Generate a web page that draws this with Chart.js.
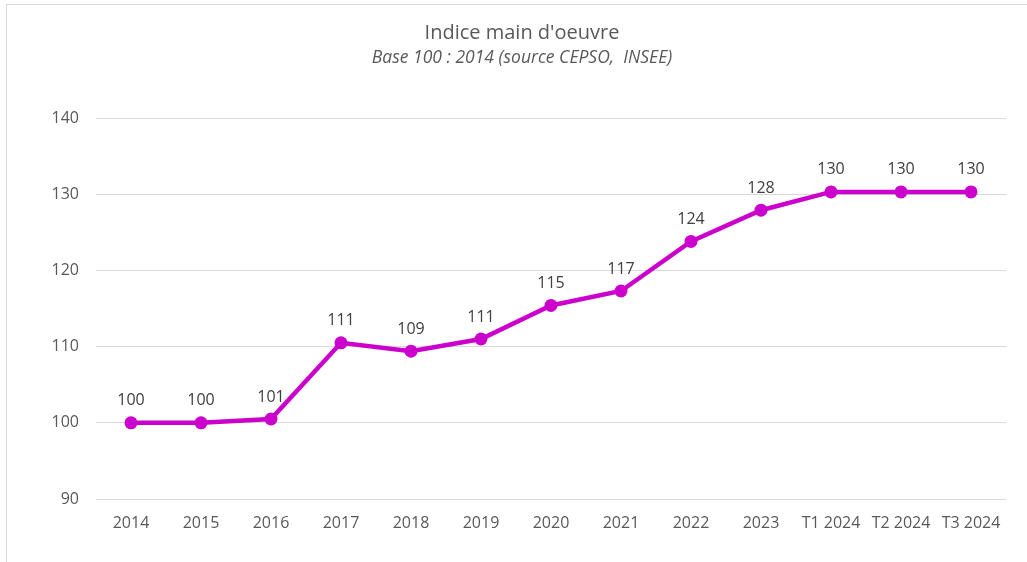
<!DOCTYPE html>
<html>
<head>
<meta charset="utf-8">
<script src="https://cdn.jsdelivr.net/npm/chart.js@4.4.1/dist/chart.umd.min.js"></script>
<style>
html,body{margin:0;padding:0;background:#fff;overflow:hidden;}
#wrap{position:relative;width:1027px;height:562px;}
#frame{position:absolute;left:6px;top:4px;width:1200px;height:700px;border:1px solid #d9d9d9;box-sizing:border-box;}
canvas{position:absolute;left:0;top:0;}
</style>
</head>
<body>
<div id="wrap">
<div id="frame"></div>
<canvas id="c" width="1027" height="562"></canvas>
</div>
<script>
const categories = ["2014","2015","2016","2017","2018","2019","2020","2021","2022","2023","T1 2024","T2 2024","T3 2024"];
const values = [100, 100, 100.5, 110.5, 109.4, 111.0, 115.4, 117.3, 123.8, 127.9, 130.3, 130.3, 130.3];
const dataLabels = ["100","100","101","111","109","111","115","117","124","128","130","130","130"];
const yTicks = [90, 100, 110, 120, 130, 140];
const titleText = "Indice main d'oeuvre";
const subtitleText = "Base 100 : 2014 (source CEPSO,  INSEE)";

const FONT = "'Open Sans', 'DejaVu Sans', sans-serif";
const LINE = "#cc00cc";

const labelPlugin = {
  id: 'labels',
  afterDatasetsDraw(chart) {
    const ctx = chart.ctx;
    const meta = chart.getDatasetMeta(0);
    ctx.save();
    ctx.font = "16px " + FONT;
    ctx.fillStyle = "#404040";
    ctx.textAlign = "center";
    ctx.textBaseline = "middle";
    meta.data.forEach((pt, i) => {
      ctx.fillText(dataLabels[i], pt.x, pt.y - 22);
    });
    ctx.restore();
  },
  afterDraw(chart) {
    const ctx = chart.ctx;
    ctx.save();
    ctx.fillStyle = "#595959";
    ctx.textAlign = "center";
    ctx.textBaseline = "middle";
    ctx.font = "20px " + FONT;
    ctx.fillText(titleText, 522, 33);
    ctx.font = "italic 17.5px " + FONT;
    ctx.fillText(subtitleText, 522, 58);
    ctx.restore();
  }
};

new Chart(document.getElementById('c'), {
  type: 'line',
  data: {
    labels: categories,
    datasets: [{
      data: values,
      borderColor: LINE,
      backgroundColor: LINE,
      borderWidth: 4.5,
      pointRadius: 6.5,
      pointHoverRadius: 6.5,
      pointBackgroundColor: LINE,
      pointBorderWidth: 0,
      tension: 0
    }]
  },
  options: {
    responsive: false,
    animation: false,
    events: [],
    layout: { padding: { left: 0, right: 21, top: 118, bottom: 0 } },
    plugins: { legend: { display: false }, title: { display: false }, tooltip: { enabled: false } },
    scales: {
      x: {
        offset: true,
        grid: { display: false, drawTicks: false },
        border: { display: false },
        ticks: { color: "#595959", font: { family: FONT, size: 16 }, padding: 15, maxRotation: 0, autoSkip: false },
        afterFit(s) { s.height = 63; }
      },
      y: {
        min: 90, max: 140,
        afterBuildTicks(s) { s.ticks = yTicks.map(v => ({ value: v })); },
        grid: { color: "#d9d9d9", lineWidth: 1, drawTicks: false },
        border: { display: false },
        ticks: { color: "#595959", font: { family: FONT, size: 16 }, padding: 17 },
        afterFit(s) { s.width = 96; }
      }
    }
  },
  plugins: [labelPlugin]
});
</script>
</body>
</html>
